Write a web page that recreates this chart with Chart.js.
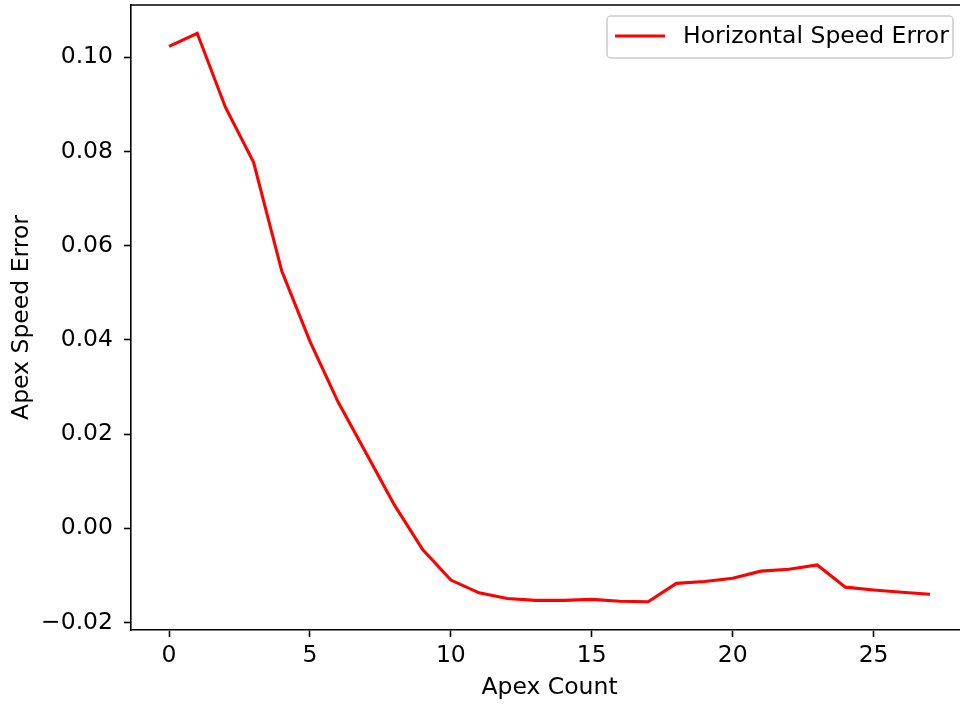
<!DOCTYPE html>
<html>
<head>
<meta charset="utf-8">
<script src="https://cdn.jsdelivr.net/npm/chart.js@4.4.0/dist/chart.umd.min.js"></script>
<style>
  html, body { margin: 0; padding: 0; background: #fff; overflow: hidden; }
  #wrap { width: 960px; height: 704px; overflow: hidden; }
</style>
</head>
<body>
<div id="wrap"><canvas id="chart" width="970" height="704"></canvas></div>
<script>
// apex count on x, error on y
const apexCount = [0, 1, 2, 3, 4, 5, 6, 7, 8, 9, 10, 11, 12, 13, 14, 15, 16, 17, 18, 19, 20, 21, 22, 23, 24, 25, 26, 27];
const horizSpeedError = [0.1023, 0.1051, 0.0894, 0.0777, 0.0546, 0.0397, 0.0268, 0.0159, 0.0049, -0.0045,
  -0.0110, -0.0137, -0.0149, -0.0153, -0.0153, -0.0151, -0.0155, -0.0156, -0.0117, -0.0113,
  -0.0106, -0.0091, -0.0087, -0.0078, -0.0125, -0.0131, -0.0136, -0.0140];
const xTicks = [0, 5, 10, 15, 20, 25];
const yTicks = [-0.02, 0.00, 0.02, 0.04, 0.06, 0.08, 0.10];

const FONT = '"DejaVu Sans", sans-serif';
const FS = 23.5;

const points = apexCount.map((x, i) => ({ x: x, y: horizSpeedError[i] }));

// frame top line, axis titles and the legend box
const extras = {
  id: 'extras',
  afterDraw(chart) {
    const ctx = chart.ctx;
    const a = chart.chartArea;
    ctx.save();
    ctx.strokeStyle = '#000';
    ctx.lineWidth = 1.6;
    ctx.beginPath();
    ctx.moveTo(a.left, a.top);
    ctx.lineTo(a.right, a.top);
    ctx.stroke();

    ctx.fillStyle = '#000';
    ctx.font = FS + 'px ' + FONT;
    ctx.textAlign = 'center';
    ctx.textBaseline = 'middle';
    ctx.fillText('Apex Count', (a.left + a.right) / 2, 688);
    ctx.translate(22, (a.top + a.bottom) / 2);
    ctx.rotate(-Math.PI / 2);
    ctx.fillText('Apex Speed Error', 0, 0);
    ctx.restore();

    // legend
    ctx.save();
    const bx = 607, by = 16, bw = 346, bh = 42, r = 4;
    ctx.fillStyle = 'rgba(255,255,255,0.8)';
    ctx.strokeStyle = '#cccccc';
    ctx.lineWidth = 1.5;
    ctx.beginPath();
    ctx.roundRect(bx, by, bw, bh, r);
    ctx.fill();
    ctx.stroke();
    ctx.strokeStyle = '#ff0000';
    ctx.lineWidth = 3.1;
    ctx.beginPath();
    ctx.moveTo(615, 36);
    ctx.lineTo(665, 36);
    ctx.stroke();
    ctx.fillStyle = '#000';
    ctx.font = FS + 'px ' + FONT;
    ctx.textAlign = 'left';
    ctx.textBaseline = 'middle';
    ctx.fillText(chart.data.datasets[0].label, 683, 37);
    ctx.restore();
  }
};

new Chart(document.getElementById('chart'), {
  type: 'line',
  data: {
    datasets: [{
      label: 'Horizontal Speed Error',
      data: points,
      borderColor: '#ff0000',
      borderWidth: 3.1,
      pointRadius: 0,
      tension: 0,
      fill: false
    }]
  },
  options: {
    responsive: false,
    animation: false,
    layout: { padding: { top: 5, right: 2, left: 0, bottom: 0 } },
    plugins: { legend: { display: false }, tooltip: { enabled: false } },
    scales: {
      x: {
        type: 'linear',
        min: -1.35,
        max: 28.35,
        afterFit: (s) => { s.height = 74; s.paddingLeft = 0; s.paddingRight = 0; },
        afterBuildTicks: (s) => { s.ticks = xTicks.map(v => ({ value: v })); },
        grid: { drawOnChartArea: false, drawTicks: true, tickLength: 7, color: '#000', tickWidth: 1.6 },
        border: { color: '#000', width: 1.6 },
        ticks: { color: '#000', font: { family: FONT, size: FS }, padding: 5, maxRotation: 0,
          callback: (v) => String(v) }
      },
      y: {
        type: 'linear',
        min: -0.0216,
        max: 0.1111,
        afterFit: (s) => { s.width = 131; s.paddingTop = 0; s.paddingBottom = 0; },
        afterBuildTicks: (s) => { s.ticks = yTicks.map(v => ({ value: v })); },
        grid: { drawOnChartArea: false, drawTicks: true, tickLength: 7, color: '#000', tickWidth: 1.6 },
        border: { color: '#000', width: 1.6 },
        ticks: { color: '#000', font: { family: FONT, size: FS }, padding: 11,
          callback: (v) => (v < 0 ? '\u2212' : '') + Math.abs(v).toFixed(2) }
      }
    }
  },
  plugins: [extras]
});
</script>
</body>
</html>
